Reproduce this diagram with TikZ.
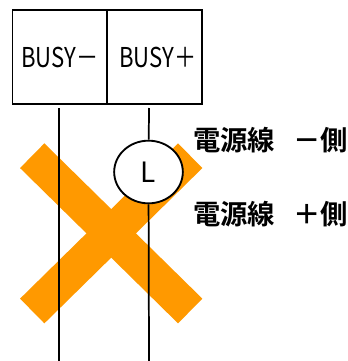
\documentclass[tikz,border=0pt]{standalone}
\usepackage{fontspec}
\newfontfamily\jpfont{Noto Sans CJK JP}
\newfontfamily\jpnarrow[FakeStretch=0.81]{Noto Sans CJK JP}
\newfontfamily\jpbold[BoldFont={Noto Sans CJK JP Bold}]{Noto Sans CJK JP}
\tikzset{
  terminal/.style={draw,line width=1.3pt,minimum width=71pt,minimum height=70.5pt,inner sep=0pt,font=\jpnarrow\fontsize{20.5}{22}\selectfont},
  lamp/.style={draw,line width=1.4pt,fill=white,ellipse,minimum width=51.5pt,minimum height=47pt,inner sep=0pt,font=\jpfont\fontsize{21}{23}\selectfont},
  wire/.style={line width=1.3pt},
  crossbar/.style={line width=26pt,color=xorange},
  sidelabel/.style={anchor=west,inner sep=0pt,font=\jpbold\bfseries\fontsize{20.5}{22}\selectfont}
}
\definecolor{xorange}{HTML}{FF9900}
\usetikzlibrary{shapes.geometric}
\begin{document}
\begin{tikzpicture}[x=0.75pt,y=-0.75pt]
  % 外枠
  \useasboundingbox (0,0) rectangle (348,361);
  % バツ印
  \draw[crossbar] (32.2,155.7) -- (190.2,311);
  \draw[crossbar] (190.2,155.7) -- (32.2,311);

  % 端子
  \node[terminal] (busyminus) at (59.7,57) {BUSY－};
  \node[terminal] (busyplus) at (154.4,57) {\hspace{5pt}BUSY＋};

  % 線
  \coordinate (minustop) at (59,108);
  \coordinate (minusend) at (59,361);
  \coordinate (plustop) at (149,108);
  \coordinate (plusend) at (149,361);
  \node[lamp] (lamp) at (148.5,172) {L};
  \draw[wire] (minustop) -- (minusend);
  \draw[wire] (plustop) -- (lamp);
  \draw[wire] (lamp) -- (plusend);

  % ラベル
  \node[sidelabel] (minuslabel) at (193,140) {電源線\hspace{0.65em}－側};
  \node[sidelabel] (pluslabel) at (193,214) {電源線\hspace{0.65em}＋側};
\end{tikzpicture}
\end{document}
